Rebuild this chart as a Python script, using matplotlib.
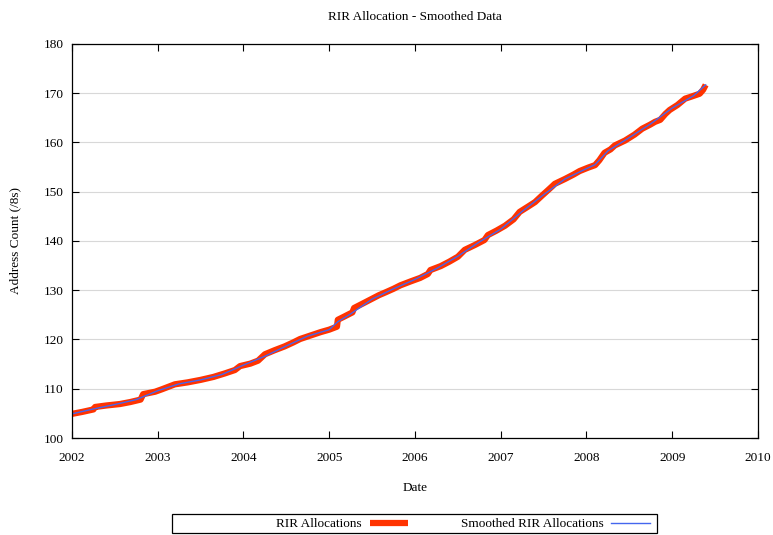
import numpy as np
import matplotlib.pyplot as plt
from matplotlib.patches import Rectangle

plt.rcParams['font.family'] = ['Liberation Serif', 'DejaVu Serif']

# RIR allocations (/8s)
dates = [2002.00, 2002.12, 2002.25, 2002.27, 2002.40, 2002.56, 2002.68, 2002.80,
         2002.83, 2002.97, 2003.05, 2003.20, 2003.35, 2003.50, 2003.65, 2003.78,
         2003.90, 2003.96, 2004.08, 2004.17, 2004.25, 2004.36, 2004.48, 2004.58,
         2004.66, 2004.78, 2004.90, 2005.00, 2005.09, 2005.10, 2005.18, 2005.27,
         2005.29, 2005.38, 2005.48, 2005.58, 2005.66, 2005.75, 2005.83, 2005.95,
         2006.06, 2006.15, 2006.18, 2006.30, 2006.40, 2006.50, 2006.58, 2006.70,
         2006.81, 2006.85, 2006.95, 2007.05, 2007.15, 2007.22, 2007.32, 2007.40,
         2007.48, 2007.55, 2007.60, 2007.63, 2007.75, 2007.85, 2007.92, 2008.02,
         2008.10, 2008.15, 2008.21, 2008.28, 2008.33, 2008.45, 2008.56, 2008.65,
         2008.74, 2008.80, 2008.86, 2008.92, 2008.97, 2009.06, 2009.15, 2009.22,
         2009.32, 2009.36, 2009.39]
rir = [104.9, 105.3, 105.8, 106.3, 106.6, 106.9, 107.3, 107.8,
       108.9, 109.4, 109.9, 110.9, 111.3, 111.8, 112.4, 113.1,
       113.8, 114.6, 115.1, 115.7, 117.0, 117.8, 118.6, 119.4,
       120.1, 120.8, 121.5, 122.0, 122.6, 124.0, 124.7, 125.5,
       126.4, 127.2, 128.1, 129.0, 129.6, 130.3, 131.0, 131.8,
       132.5, 133.3, 134.1, 134.9, 135.8, 136.8, 138.2, 139.2,
       140.2, 141.2, 142.1, 143.1, 144.4, 145.9, 147.0, 147.9,
       149.2, 150.3, 151.1, 151.6, 152.6, 153.5, 154.2, 154.9,
       155.4, 156.4, 157.9, 158.6, 159.4, 160.4, 161.6, 162.8,
       163.6, 164.2, 164.6, 165.8, 166.6, 167.6, 168.9, 169.3,
       169.9, 170.7, 171.7]

# smoothed series
sm_dates = [2002.00, 2002.25, 2002.50, 2002.75, 2003.00, 2003.25, 2003.50, 2003.75,
            2004.00, 2004.25, 2004.50, 2004.75, 2005.00, 2005.10, 2005.25, 2005.50,
            2005.75, 2006.00, 2006.25, 2006.50, 2006.75, 2007.00, 2007.25, 2007.50,
            2007.75, 2008.00, 2008.10, 2008.25, 2008.50, 2008.75, 2009.00, 2009.25,
            2009.39]
smoothed = [104.9, 105.9, 106.8, 107.8, 109.6, 111.0, 111.8, 112.9,
            114.8, 116.6, 118.7, 120.7, 122.0, 123.6, 125.2, 128.2,
            130.3, 132.2, 134.4, 136.9, 139.8, 142.4, 146.0, 149.4,
            152.6, 154.7, 155.5, 158.3, 161.0, 163.8, 167.0, 169.5,
            171.7]

fs = 9.5
fig = plt.figure(figsize=(7.73, 5.35), dpi=100)
ax = fig.add_axes([0.0931, 0.1813, 0.8875, 0.7365])

ax.plot(dates, rir, color='#ff3300', linewidth=4.5, solid_capstyle='butt',
        label='RIR Allocations')
ax.plot(sm_dates, smoothed, color='#4466ee', linewidth=1.0,
        label='Smoothed RIR Allocations')

ax.set_xlim(2002, 2010)
ax.set_ylim(100, 180)
ax.set_xticks(range(2002, 2011))
ax.set_yticks(range(100, 181, 10))
ax.tick_params(direction='in', top=True, right=True, length=5, labelsize=fs)
ax.tick_params(axis='x', pad=10)
ax.tick_params(axis='y', pad=6)
ax.yaxis.grid(True, color='#d8d8d8', linewidth=0.8)
ax.set_axisbelow(True)
for s in ax.spines.values():
    s.set_linewidth(0.9)

ax.set_title('RIR Allocation - Smoothed Data', fontsize=fs, pad=17)
ax.set_xlabel('Date', fontsize=fs, labelpad=13)
ax.set_ylabel('Address Count (/8s)', fontsize=fs, labelpad=16)

leg = fig.legend(loc='center', ncol=2, markerfirst=False, fontsize=fs,
                 bbox_to_anchor=(463/773, 1 - 524/535), frameon=False,
                 handlelength=2.9, handletextpad=0.6, columnspacing=4.0,
                 borderpad=0.1)
fig.patches.append(Rectangle((172/773, 2/535), 485/773, 19/535,
                             transform=fig.transFigure, fill=False,
                             edgecolor='black', linewidth=0.9))

fig.savefig('out.png', dpi=100)
